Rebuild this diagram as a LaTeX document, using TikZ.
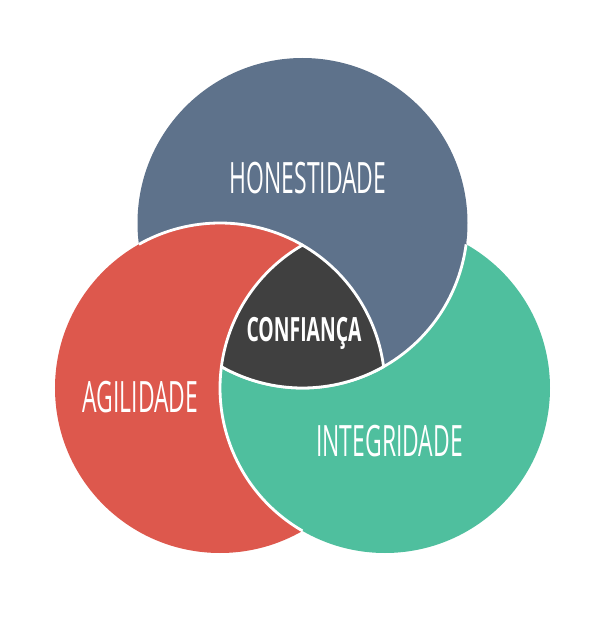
\documentclass[tikz,border=0pt]{standalone}
\usepackage{fontspec}
\usepackage{tikz}
\usetikzlibrary{calc}
\newfontfamily\lightlabel{Open Sans}[FakeStretch=0.53]
\newfontfamily\boldlabel{Open Sans}[FakeStretch=0.58]
\definecolor{myslate}{RGB}{94,114,139}
\definecolor{mycoral}{RGB}{221,88,77}
\definecolor{myteal}{RGB}{79,191,158}
\definecolor{mydark}{RGB}{64,64,64}

\begin{document}
\begin{tikzpicture}[
  seam/.style={draw=white, line width=1.6pt, line join=round},
  ringlabel/.style={text=white, inner sep=0pt, text height=0.62cm, text depth=0pt, font=\lightlabel\fontsize{24.6}{25}\selectfont},
  corelabel/.style={text=white, inner sep=0pt, text height=0.48cm, text depth=0pt, font=\boldlabel\bfseries\fontsize{19}{19}\selectfont}
]
  \useasboundingbox (0,0) rectangle (12,12.66);
  % centres and crossing points
  \coordinate (cH) at (6.05,8.2);
  \coordinate (cA) at (4.40,4.9);
  \coordinate (cI) at (7.70,4.9);
  \coordinate (cT) at (6.05,7.758);
  \coordinate (cL) at (4.428,5.326);

  % three circles
  \fill[myslate] (cH) circle (3.3);
  \fill[mycoral] (cA) circle (3.3);
  \fill[myteal] (cI) circle (3.3);
  % honestidade lies over integridade
  \filldraw[myslate, line width=0.8pt] (cL) arc[start angle=240.56, end angle=352.58, radius=3.3]
    arc[start angle=60.56, end angle=172.58, radius=3.3] -- cycle;

  % white seams
  \draw[seam] (cT) arc[start angle=60, end angle=119.44, radius=3.3];
  \draw[seam] (cL) arc[start angle=172.58, end angle=240, radius=3.3];
  \draw[seam] (cL) arc[start angle=240.56, end angle=352.58, radius=3.3];

  % centre
  \path[fill=mydark, seam] (cT) arc[start angle=120, end angle=172.58, radius=3.3]
    arc[start angle=240.56, end angle=299.44, radius=3.3]
    arc[start angle=7.42, end angle=60, radius=3.3] -- cycle;

  \node[ringlabel] (honestidade) at (6.16,9.09) {HONESTIDADE};
  \node[ringlabel] (agilidade) at (2.81,4.71) {AGILIDADE};
  \node[ringlabel] (integridade) at (7.79,3.84) {INTEGRIDADE};
  \node[corelabel] (confianca) at (6.08,6.08) {CONFIANÇA};
\end{tikzpicture}
\end{document}
